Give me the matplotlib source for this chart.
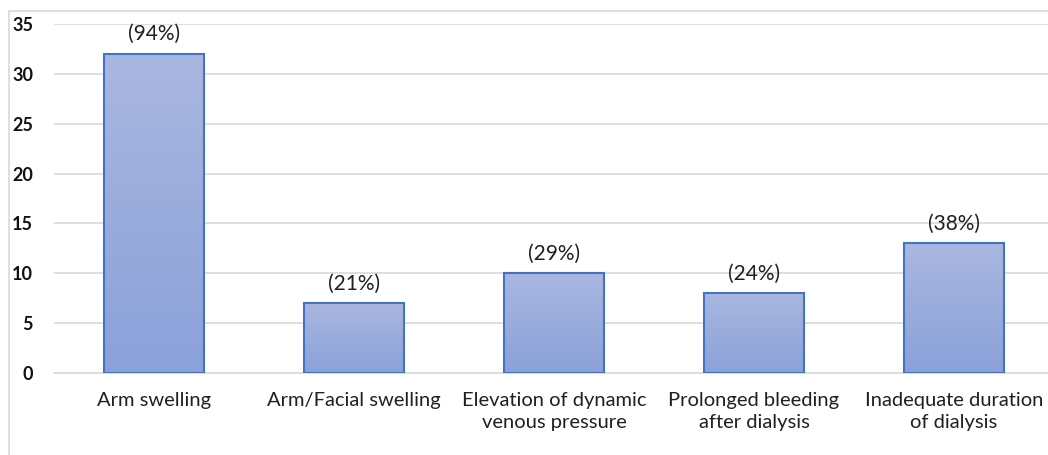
import matplotlib
matplotlib.use("Agg")
import matplotlib.pyplot as plt
import numpy as np
from matplotlib.patches import Rectangle
from matplotlib.colors import LinearSegmentedColormap

categories = ["Arm swelling", "Arm/Facial swelling", "Elevation of dynamic\nvenous pressure",
              "Prolonged bleeding\nafter dialysis", "Inadequate duration\nof dialysis"]
values = [32, 7, 10, 8, 13]
pct_labels = ["(94%)", "(21%)", "(29%)", "(24%)", "(38%)"]
yticks = [0, 5, 10, 15, 20, 25, 30, 35]

plt.rcParams['font.family'] = ['Lato', 'DejaVu Sans']

fig = plt.figure(figsize=(10.48, 4.55), dpi=100)
ax = fig.add_axes([54/1048, (455-373)/455, 1000/1048, (373-24)/455])

# outer chart border
fig.patches.append(Rectangle((9/1048, -0.1), 1.2, (455-11)/455 + 0.1, transform=fig.transFigure,
                             fill=False, edgecolor='#D9D9D9', linewidth=1.2))

x = np.arange(len(categories))
bars = ax.bar(x, values, width=0.5, color='none', edgecolor='#4472C4', linewidth=1.5, zorder=3)

cmap = LinearSegmentedColormap.from_list('g', ['#8AA1D9', '#AAB7E0'])
grad = np.linspace(0, 1, 256).reshape(-1, 1)
for b in bars:
    x0, y0 = b.get_x(), b.get_y()
    w, h = b.get_width(), b.get_height()
    im = ax.imshow(grad, cmap=cmap, extent=[x0, x0 + w, y0, y0 + h], origin='lower',
                   aspect='auto', zorder=2)
    im.set_clip_path(b)

for xi, v, lab in zip(x, values, pct_labels):
    ax.annotate(lab, (xi, v), xytext=(0, 7), textcoords='offset points', ha='center', va='bottom',
                fontsize=15, color='#202020')

ax.set_xlim(-0.5, 4.5)
ax.set_ylim(0, 35)
ax.set_yticks(yticks)
ax.set_yticklabels([str(t) for t in yticks], fontweight='bold', fontsize=13, color='#111111')
ax.set_xticks(x)
ax.set_xticklabels(categories, fontsize=14.5, color='#202020', linespacing=1.3)
ax.tick_params(axis='both', length=0)
ax.tick_params(axis='y', pad=15)
ax.tick_params(axis='x', pad=14)
ax.grid(axis='y', color='#D9D9D9', linewidth=1.2, zorder=0)
ax.set_axisbelow(True)
for s in ['top', 'right', 'left']:
    ax.spines[s].set_visible(False)
ax.spines['bottom'].set_color('#D9D9D9')
ax.spines['bottom'].set_linewidth(1.2)

fig.savefig('out.png', dpi=100)
